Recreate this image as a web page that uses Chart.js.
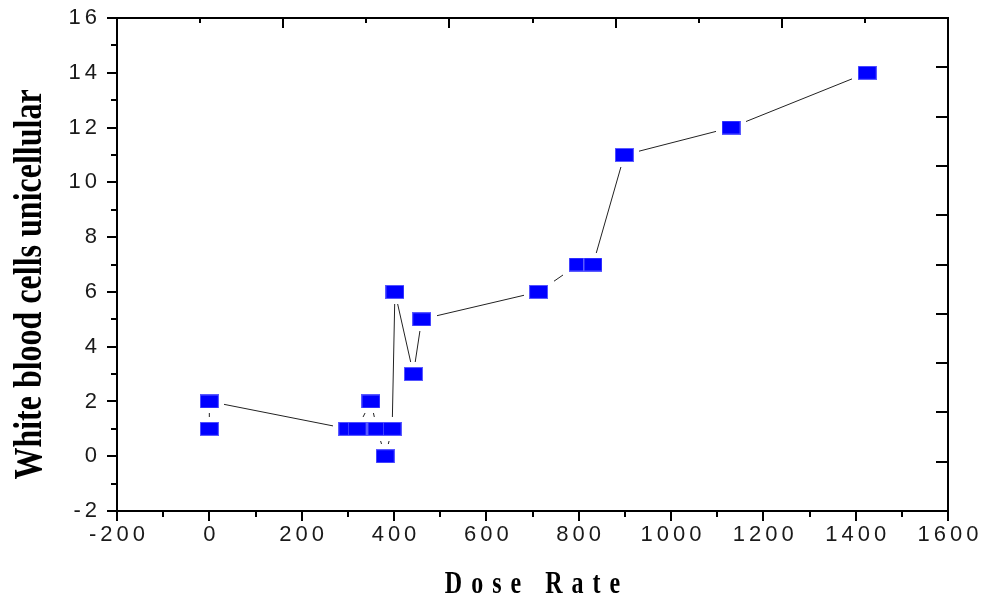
<!DOCTYPE html>
<html>
<head>
<meta charset="utf-8">
<script src="https://cdn.jsdelivr.net/npm/chart.js@4/dist/chart.umd.min.js"></script>
<style>
  html, body { margin: 0; padding: 0; background: #fff; }
  #wrap { width: 987px; height: 601px; }
</style>
</head>
<body>
<div id="wrap"><canvas id="doseChart"></canvas></div>
<script>
// data
const doseRate = [0, 0, 300, 320, 350, 363, 381, 396, 402, 442, 460, 713, 799, 831, 899, 1130, 1425];
const wbcCount = [1, 2, 1, 1, 2, 1, 0, 1, 6, 3, 5, 6, 7, 7, 11, 12, 14];

const xTicks = [-200, 0, 200, 400, 600, 800, 1000, 1200, 1400, 1600];
const yTicks = [-2, 0, 2, 4, 6, 8, 10, 12, 14, 16];

const xTitle = "Dose Rate";
const yTitle = "White blood cells unicellular";

const points = doseRate.map((d, i) => ({ x: d, y: wbcCount[i] }));

// marker images: blue rectangle, and a white one a bit bigger to make the gap in the line
function rectMarker(w, h, fill, edge) {
    const c = document.createElement("canvas");
    c.width = w;
    c.height = h;
    const g = c.getContext("2d");
    g.fillStyle = edge;
    g.fillRect(0, 0, w, h);
    g.fillStyle = fill;
    g.fillRect(1, 1, w - 2, h - 2);
    return c;
}
const blueMark = rectMarker(19, 14, "#0000ff", "#5a5aff");
const gapMark = rectMarker(30, 24, "#ffffff", "#ffffff");

// ---------- frame, ticks and titles ----------
const frameAndTicks = {
    id: "frameAndTicks",
    beforeDraw(chart) {
        chart.ctx.letterSpacing = "4px";
    },
    afterDraw(chart) {
        const { ctx, chartArea: a, scales } = chart;
        ctx.save();
        ctx.letterSpacing = "0px";
        ctx.strokeStyle = "#000";
        ctx.lineWidth = 2;
        ctx.strokeRect(a.left, a.top, a.right - a.left, a.bottom - a.top);

        ctx.beginPath();
        // bottom axis, outside
        for (let v = -200; v <= 1600; v += 100) {
            const px = Math.round(scales.x.getPixelForValue(v));
            const len = v % 200 === 0 ? 10 : 6;
            ctx.moveTo(px, a.bottom);
            ctx.lineTo(px, a.bottom + len);
        }
        // left axis, outside
        for (let v = -2; v <= 16; v += 1) {
            const py = Math.round(scales.y.getPixelForValue(v));
            const len = v % 2 === 0 ? 10 : 6;
            ctx.moveTo(a.left, py);
            ctx.lineTo(a.left - len, py);
        }
        // top axis, inside
        for (let v = 1; v < 10; v += 1) {
            const px = Math.round(scales.x2.getPixelForValue(v));
            const len = v % 2 === 0 ? 10 : 5;
            ctx.moveTo(px, a.top);
            ctx.lineTo(px, a.top + len);
        }
        // right axis, inside
        for (let v = 1; v < 10; v += 1) {
            const py = Math.round(scales.y2.getPixelForValue(v));
            ctx.moveTo(a.right, py);
            ctx.lineTo(a.right - 12, py);
        }
        ctx.stroke();

        // axis titles
        ctx.fillStyle = "#000";
        ctx.font = "bold 32px 'Liberation Serif', 'Times New Roman', serif";
        ctx.textAlign = "center";
        ctx.textBaseline = "alphabetic";

        ctx.save();
        ctx.translate((a.left + a.right) / 2, 593);
        ctx.scale(0.75, 1);
        ctx.letterSpacing = "12px";
        ctx.fillText(xTitle, 6, 0);
        ctx.restore();

        ctx.save();
        ctx.translate(41, (a.top + a.bottom) / 2 + 20);
        ctx.rotate(-Math.PI / 2);
        ctx.scale(1, 1.25);
        ctx.fillText(yTitle, 0, 0);
        ctx.restore();

        ctx.restore();
    }
};

const tickFont = { family: "'Liberation Sans', Arial, sans-serif", size: 22 };

new Chart(document.getElementById("doseChart"), {
    type: "scatter",
    data: {
        datasets: [{
            // line with white boxes so it stops short of each marker
            data: points,
            showLine: true,
            borderColor: "#222",
            borderWidth: 1,
            pointStyle: gapMark,
            pointRadius: 10,
            order: 2
        }, {
            data: points,
            showLine: false,
            pointStyle: blueMark,
            pointRadius: 8,
            order: 1
        }]
    },
    options: {
        responsive: true,
        maintainAspectRatio: false,
        animation: false,
        events: [],
        layout: { padding: { top: 18, right: 39, left: 0, bottom: 0 } },
        plugins: {
            legend: { display: false },
            tooltip: { enabled: false }
        },
        scales: {
            x: {
                type: "linear",
                min: -200,
                max: 1600,
                afterBuildTicks: s => { s.ticks = xTicks.map(v => ({ value: v })); },
                ticks: {
                    font: tickFont, color: "#1a1a1a", padding: 3, labelOffset: 2, maxRotation: 0,
                    callback: v => String(v)
                },
                grid: { display: false },
                border: { display: false },
                afterFit: s => { s.height = 90; s.paddingLeft = 0; s.paddingRight = 0; }
            },
            y: {
                type: "linear",
                min: -2,
                max: 16,
                afterBuildTicks: s => { s.ticks = yTicks.map(v => ({ value: v })); },
                ticks: { font: tickFont, color: "#1a1a1a", padding: 8, callback: v => String(v) },
                grid: { display: false },
                border: { display: false },
                afterFit: s => { s.width = 117; s.paddingTop = 0; s.paddingBottom = 0; }
            },
            x2: { type: "linear", position: "top", min: 0, max: 10, display: false },
            y2: { type: "linear", position: "right", min: 0, max: 10, display: false }
        }
    },
    plugins: [frameAndTicks]
});
</script>
</body>
</html>
